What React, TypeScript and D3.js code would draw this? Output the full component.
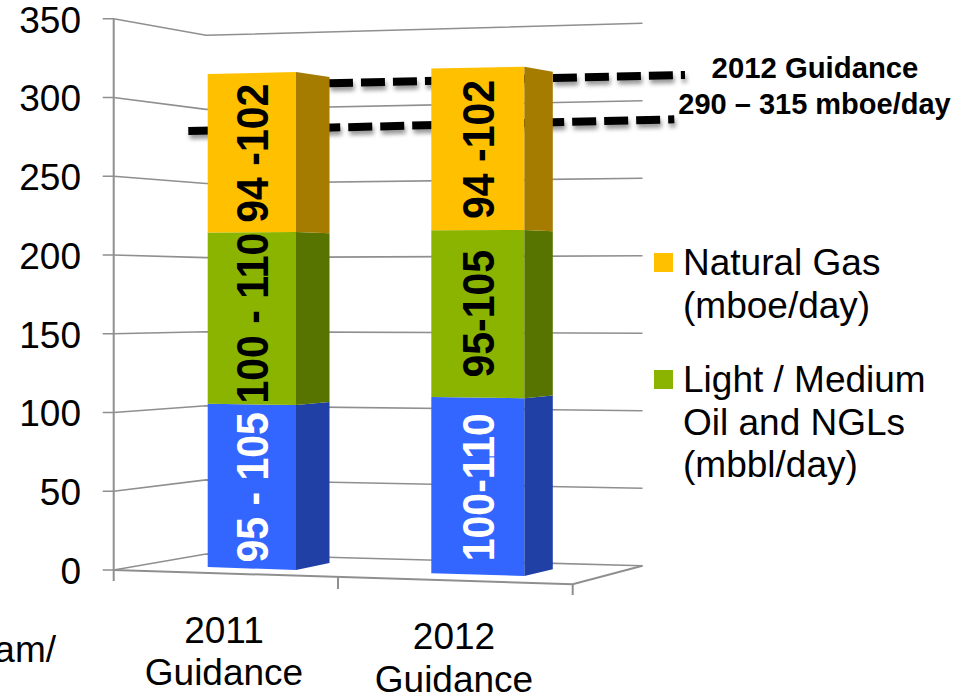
import React from "react";
import * as d3 from "d3";

// ---- data ----
const categories = ["2011", "2012"];
const categorySubLabel = "Guidance";
const blueValues = [102, 110];
const greenValues = [107, 104];
const yellowValues = [99, 101];
const blueLabels = ["95 - 105", "100-110"];
const greenLabels = ["100 - 110", "95-105"];
const yellowLabels = ["94 -102", "94 -102"];
const yTicks = [0, 50, 100, 150, 200, 250, 300, 350];
const guidanceLevels = [315, 290];
const guidanceTitle = ["2012 Guidance", "290 – 315 mboe/day"];

// ---- geometry of the 3-D projection ----
const FONT = "'Liberation Sans', Arial, sans-serif";
const GRID = "#8f8f8f";
const wallLeft = d3.scaleLinear().domain([0, 350]).range([570, 18.7]);
const wallCorner = d3.scaleLinear().domain([0, 350]).range([554, 35.3]);
const wallRight = d3.scaleLinear().domain([0, 350]).range([565.8, 23.3]);
const X_LEFT = 113.7;
const X_CORNER = 206;
const X_RIGHT = 642.5;
const X_FRONT_RIGHT = 572.7;
const FRONT_RIGHT_Y = 584.3;

const barGeometry = [
  { x0: 207.7, x1: 296, x2: 329.5, left: [567, 74], right: [570, 72], back: [563, 77] },
  { x0: 431.3, x1: 524.4, x2: 552.8, left: [573.3, 68.5], right: [576, 66.7], back: [569.3, 71.7] },
];
const faces = [
  { front: "#3366FF", side: "#2140A6", text: "#ffffff", labels: blueLabels },
  { front: "#8AB400", side: "#587400", text: "#000000", labels: greenLabels },
  { front: "#FFC000", side: "#A67C00", text: "#000000", labels: yellowLabels },
];

const rows = categories.map((c, i) => ({
  c,
  a: blueValues[i],
  b: greenValues[i],
  d: yellowValues[i],
}));
const stacked = d3.stack<any>().keys(["a", "b", "d"])(rows);

const guidanceLine = d3.line<[number, number]>();
const guidanceEnds: Record<number, { from: [number, number]; to: [number, number] }> = {
  315: { from: [233, 85.4], to: [685, 75] },
  290: { from: [188.3, 131], to: [674.3, 119.3] },
};

export default function App() {
  return (
    <svg
      width={953}
      height={698}
      style={{ position: "absolute", left: 0, top: 0, background: "#fff" }}
      fontFamily={FONT}
    >
      <defs>
        <filter id="sh" x="-5%" y="-300%" width="110%" height="700%">
          <feDropShadow dx="1.5" dy="4" stdDeviation="2" floodColor="#000" floodOpacity="0.4" />
        </filter>
      </defs>

      {/* grid */}
      {yTicks.map((t) => (
        <g key={t} fill="none" stroke={GRID} strokeWidth={1.6}>
          <path
            d={`M${X_LEFT - 11},${wallLeft(t)}L${X_LEFT},${wallLeft(t)}L${X_CORNER},${wallCorner(t)}L${X_RIGHT},${wallRight(t)}`}
          />
          <text
            x={81}
            y={wallLeft(t) + 14}
            textAnchor="end"
            fontSize={37}
            fill="#000"
            stroke="none"
          >
            {t}
          </text>
        </g>
      ))}
      {/* axis + floor */}
      <g fill="none" stroke={GRID} strokeWidth={2}>
        <path d={`M${X_LEFT},${wallLeft(350)}V581`} />
        <path
          d={`M${X_LEFT},${wallLeft(0)}L${X_FRONT_RIGHT},${FRONT_RIGHT_Y}L${X_RIGHT},${wallRight(0)}`}
        />
        <path d={`M338,577V589`} />
        <path d={`M${X_FRONT_RIGHT},${FRONT_RIGHT_Y}V595`} />
      </g>

      {/* guidance dashed lines */}
      {guidanceLevels.map((lvl) => (
        <path
          key={lvl}
          d={guidanceLine([guidanceEnds[lvl].from, guidanceEnds[lvl].to]) as string}
          fill="none"
          stroke="#000"
          strokeWidth={8}
          strokeDasharray="24 8"
          filter="url(#sh)"
        />
      ))}

      {/* bars */}
      {barGeometry.map((g, i) => {
        const total = stacked[2][i][1];
        const yL = d3.scaleLinear().domain([0, total]).range(g.left);
        const yR = d3.scaleLinear().domain([0, total]).range(g.right);
        const yB = d3.scaleLinear().domain([0, total]).range(g.back);
        return (
          <g key={i}>
            {stacked.map((s, k) => {
              const [lo, hi] = s[i];
              const f = faces[k];
              return (
                <g key={k}>
                  <path
                    d={`M${g.x0},${yL(lo)}L${g.x1},${yR(lo)}L${g.x1},${yR(hi)}L${g.x0},${yL(hi)}Z`}
                    fill={f.front}
                  />
                  <path
                    d={`M${g.x1},${yR(lo)}L${g.x2},${yB(lo)}L${g.x2},${yB(hi)}L${g.x1},${yR(hi)}Z`}
                    fill={f.side}
                  />
                </g>
              );
            })}
            {stacked.map((s, k) => {
              const [lo, hi] = s[i];
              const f = faces[k];
              const cy = yL((lo + hi) / 2) + (k === 0 ? 2 : 0);
              const bx = (g.x0 + g.x1) / 2 + 16.3;
              return (
                <text
                  key={k}
                  transform={`translate(${bx},${cy}) rotate(-90) scale(1,1.07)`}
                  textAnchor="middle"
                  fontSize={41}
                  fontWeight="bold"
                  fill={f.text}
                >
                  {f.labels[i]}
                </text>
              );
            })}
          </g>
        );
      })}

      {/* category labels */}
      <g fontSize={37} textAnchor="middle" fill="#000">
        <text x={224} y={643}>{categories[0]}</text>
        <text x={224} y={685}>{categorySubLabel}</text>
        <text x={454} y={649}>{categories[1]}</text>
        <text x={454} y={692}>{categorySubLabel}</text>
        <text x={56} y={662} textAnchor="end">am/</text>
      </g>

      {/* guidance note */}
      <g fontWeight="bold" textAnchor="middle" fill="#000">
        <text x={815} y={78} fontSize={29.3}>{guidanceTitle[0]}</text>
        <text x={814.5} y={114} fontSize={29}>{guidanceTitle[1]}</text>
      </g>

      {/* legend */}
      <rect x={654} y={253} width={19} height={19} fill={faces[2].front} />
      <rect x={654} y={370} width={19} height={19} fill={faces[1].front} />
      <g fontSize={37} fill="#000">
        <text x={683} y={275}>Natural Gas</text>
        <text x={683} y={318}>(mboe/day)</text>
        <text x={683} y={392}>Light / Medium</text>
        <text x={683} y={435}>Oil and NGLs</text>
        <text x={683} y={477}>(mbbl/day)</text>
      </g>
    </svg>
  );
}
